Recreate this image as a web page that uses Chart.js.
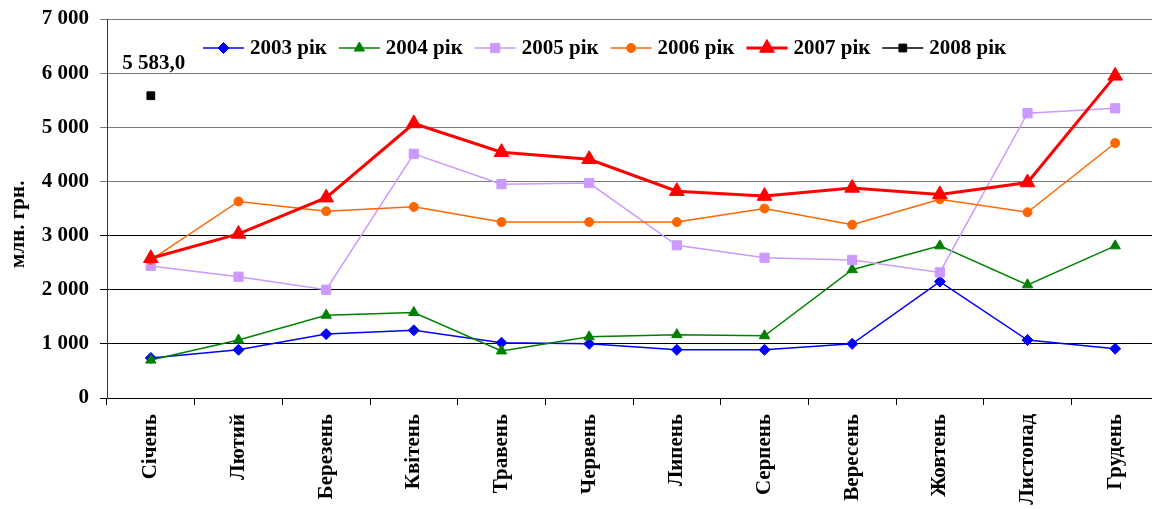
<!DOCTYPE html>
<html>
<head>
<meta charset="utf-8">
<script src="https://cdn.jsdelivr.net/npm/chart.js@4.4.1/dist/chart.umd.min.js"></script>
<style>
  html, body { margin: 0; padding: 0; background: #fff; overflow: hidden; }
  #wrap { width: 1152px; height: 509px; }
</style>
</head>
<body>
<div id="wrap"><canvas id="salesChart" width="1152" height="509"></canvas></div>
<script>
// months (x categories)
const months = ["Січень", "Лютий", "Березень", "Квітень", "Травень", "Червень",
  "Липень", "Серпень", "Вересень", "Жовтень", "Листопад", "Грудень"];

// values, млн. грн.
const y2003 = [740, 890, 1180, 1250, 1020, 1000, 890, 890, 1000, 2150, 1070, 910];
const y2004 = [700, 1070, 1530, 1580, 870, 1130, 1170, 1150, 2370, 2810, 2090, 2810];
const y2005 = [2440, 2240, 2000, 4510, 3950, 3970, 2820, 2590, 2550, 2320, 5260, 5350];
const y2006 = [2550, 3630, 3450, 3530, 3250, 3250, 3250, 3500, 3200, 3670, 3430, 4710];
const y2007 = [2580, 3030, 3700, 5070, 4540, 4410, 3820, 3730, 3880, 3760, 3980, 5950];
const y2008 = [5583, null, null, null, null, null, null, null, null, null, null, null];

const yTicks = [0, 1000, 2000, 3000, 4000, 5000, 6000, 7000];

const FONT = "'Liberation Serif', 'Times New Roman', serif";

const toPoints = (arr) => arr.map((v, i) => ({ x: i, y: v }));

// "5583" -> "5 583,0"
const fmtUa = (v, dec) => {
  const parts = v.toFixed(dec).split(".");
  const int = parts[0].replace(/\B(?=(\d{3})+(?!\d))/g, " ");
  return parts[1] ? int + "," + parts[1] : int;
};

const series = [
  { label: "2003 рік", data: y2003, color: "#0000FF", style: "rectRot", r: 5.5, w: 1.5 },
  { label: "2004 рік", data: y2004, color: "#008000", style: "triangle", r: 6, w: 1.5 },
  { label: "2005 рік", data: y2005, color: "#CC99FF", style: "rect", r: 6.5, w: 1.5 },
  { label: "2006 рік", data: y2006, color: "#FF6600", style: "circle", r: 4.5, w: 1.5 },
  { label: "2007 рік", data: y2007, color: "#FF0000", style: "triangle", r: 8.5, w: 3 },
  { label: "2008 рік", data: y2008, color: "#000000", style: "rect", r: 5.5, w: 1.5 },
];

// Excel-like legend: short line with marker, then bold text
const lineLegend = {
  id: "lineLegend",
  afterDraw(chart) {
    const ctx = chart.ctx;
    let x = 203;
    const y = 48;
    ctx.save();
    ctx.font = "bold 21px " + FONT;
    ctx.textBaseline = "middle";
    ctx.textAlign = "left";
    chart.data.datasets.forEach((ds) => {
      ctx.strokeStyle = ds.borderColor;
      ctx.lineWidth = ds.borderWidth;
      ctx.beginPath();
      ctx.moveTo(x, y);
      ctx.lineTo(x + 41, y);
      ctx.stroke();
      ctx.fillStyle = ds.pointBackgroundColor;
      ctx.strokeStyle = ds.pointBorderColor;
      ctx.lineWidth = 1;
      Chart.helpers.drawPoint(ctx, { pointStyle: ds.pointStyle, radius: ds.pointRadius, rotation: 0, borderWidth: 1 }, x + 20.5, y);
      ctx.fillStyle = "#000";
      ctx.fillText(ds.label, x + 47, y + 1);
      x += 47 + ctx.measureText(ds.label).width + 12;
    });
    ctx.restore();
  },
};

// value label over the single 2008 point
const pointLabel = {
  id: "pointLabel",
  afterDatasetsDraw(chart) {
    const idx = chart.data.datasets.length - 1;
    const meta = chart.getDatasetMeta(idx);
    const ctx = chart.ctx;
    ctx.save();
    ctx.font = "bold 21px " + FONT;
    ctx.fillStyle = "#000";
    ctx.textAlign = "center";
    ctx.textBaseline = "alphabetic";
    y2008.forEach((v, i) => {
      if (v == null) return;
      const el = meta.data[i];
      ctx.fillText(fmtUa(v, 1), el.x + 3, el.y - 27);
    });
    ctx.restore();
  },
};

new Chart(document.getElementById("salesChart"), {
  type: "line",
  data: {
    datasets: series.map((s, i) => ({
      label: s.label,
      data: toPoints(s.data),
      borderColor: s.color,
      backgroundColor: s.color,
      borderWidth: s.w,
      pointStyle: s.style,
      pointRadius: s.r,
      pointHoverRadius: s.r,
      pointBackgroundColor: s.color,
      pointBorderColor: s.color,
      pointBorderWidth: 1,
      tension: 0,
      spanGaps: false,
      order: series.length - i,
    })),
  },
  options: {
    responsive: false,
    animation: false,
    events: [],
    layout: { autoPadding: false, padding: { top: 19, right: 0, left: 0, bottom: 0 } },
    plugins: {
      legend: { display: false },
      tooltip: { enabled: false },
    },
    scales: {
      x: {
        type: "linear",
        min: -0.5,
        max: 11.42,
        afterBuildTicks: (scale) => {
          scale.ticks = months.map((m, i) => ({ value: i }));
        },
        afterFit: (scale) => {
          scale.height = 111;
          scale.paddingLeft = 0;
          scale.paddingRight = 0;
        },
        grid: {
          offset: true,
          drawOnChartArea: false,
          drawTicks: true,
          tickLength: 7,
          color: "#000",
        },
        border: { color: "#000", width: 1 },
        ticks: {
          autoSkip: false,
          minRotation: 90,
          maxRotation: 90,
          padding: 9,
          color: "#000",
          font: { family: FONT, size: 21, weight: "bold" },
          callback: (v) => months[v],
        },
      },
      y: {
        min: 0,
        max: 7000,
        afterBuildTicks: (scale) => {
          scale.ticks = yTicks.map((v) => ({ value: v }));
        },
        afterFit: (scale) => {
          scale.width = 107;
          scale.paddingTop = 0;
          scale.paddingBottom = 0;
        },
        grid: {
          color: (c) => (c.tick && c.tick.value >= 4000 ? "#7a7a7a" : "#000"),
          tickLength: 7,
        },
        border: { color: "#333", width: 1 },
        ticks: {
          padding: 11,
          color: "#000",
          font: { family: FONT, size: 21, weight: "bold" },
          callback: (v) => fmtUa(v, 0),
        },
        title: {
          display: true,
          // trailing spaces push the rotated title a little lower, as in the original
          text: "млн. грн.\u00A0\u00A0\u00A0\u00A0\u00A0\u00A0",
          color: "#000",
          padding: { top: 6, bottom: 0 },
          font: { family: FONT, size: 21, weight: "bold" },
        },
      },
    },
  },
  plugins: [lineLegend, pointLabel],
});
</script>
</body>
</html>
